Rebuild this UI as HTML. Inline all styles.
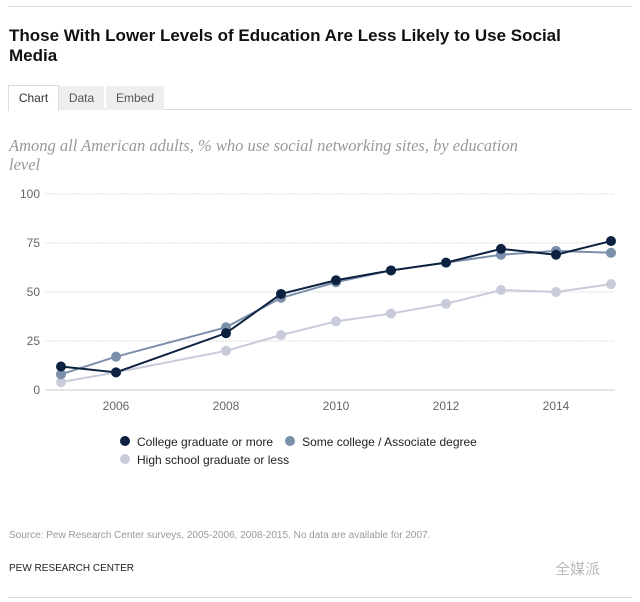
<!DOCTYPE html>
<html><head><meta charset="utf-8"><style>
body{margin:0;width:640px;height:602px;background:#fff;font-family:"Liberation Sans",sans-serif;position:relative;overflow:hidden}
.a{position:absolute}
</style></head><body>
<div class="a" style="left:8px;top:6px;width:624px;height:1px;background:#ddd"></div>
<div class="a" style="left:9px;top:26px;width:560px;font-weight:bold;font-size:17px;line-height:20px;color:#111">Those With Lower Levels of Education Are Less Likely to Use Social Media</div>
<div class="a" style="left:8px;top:109px;width:624px;height:1px;background:#ddd"></div>
<div class="a" style="left:8px;top:85px;width:49px;height:25px;border:1px solid #ddd;border-bottom:none;background:#fff;font-size:12px;color:#333;line-height:25px;text-align:center">Chart</div>
<div class="a" style="left:59px;top:86px;width:45px;height:24px;background:#eee;font-size:12px;color:#555;line-height:24px;text-align:center">Data</div>
<div class="a" style="left:106px;top:86px;width:58px;height:24px;background:#eee;font-size:12px;color:#555;line-height:24px;text-align:center">Embed</div>
<div class="a" style="left:9px;top:136px;width:540px;font-family:'Liberation Serif',serif;font-style:italic;font-size:16.5px;line-height:19px;color:#999">Among all American adults, % who use social networking sites, by education level</div>
<svg class="a" style="left:0;top:0" width="640" height="602">
<g id="grid"></g><g id="lines"></g>
</svg>
<div class="a" style="left:120px;top:433px;font-size:12px;color:#222;line-height:18px">
<div><span style="display:inline-block;width:10px;height:10px;border-radius:5px;background:#0d2240;margin-right:7px"></span>College graduate or more<span style="display:inline-block;width:10px;height:10px;border-radius:5px;background:#7b8faa;margin:0 7px 0 12px"></span>Some college / Associate degree</div>
<div><span style="display:inline-block;width:10px;height:10px;border-radius:5px;background:#c8cbda;margin-right:7px"></span>High school graduate or less</div>
</div>
<div class="a" style="left:9px;top:530px;font-size:10px;color:#999">Source: Pew Research Center surveys, 2005-2006, 2008-2015. No data are available for 2007.</div>
<div class="a" style="left:9px;top:563px;font-size:10px;color:#222">PEW RESEARCH CENTER</div>
<div class="a" style="left:555px;top:558px;font-size:15px;color:#bbb;font-family:'Liberation Sans','Noto Sans CJK SC',sans-serif">全媒派</div>
<div class="a" style="left:8px;top:597px;width:624px;height:1px;background:#ddd"></div>
<script>
const years=[2005,2006,2008,2009,2010,2011,2012,2013,2014,2015];
const college=[12,9,29,49,56,61,65,72,69,76];
const someCollege=[8,17,32,47,55,61,65,69,71,70];
const highSchool=[4,9,20,28,35,39,44,51,50,54];
const yTicks=[0,25,50,75,100];
const xTicks=[2006,2008,2010,2012,2014];
const NS="http://www.w3.org/2000/svg";
const x=v=>61+(v-2005)*55, y=v=>390-v*1.96;
const grid=document.getElementById('grid'), lines=document.getElementById('lines');
function mk(t,a,p){const e=document.createElementNS(NS,t);for(const k in a)e.setAttribute(k,a[k]);p.appendChild(e);return e;}
yTicks.forEach(t=>{
 const l=mk('line',{x1:45,x2:615,y1:y(t),y2:y(t),stroke:t?'#ddd':'#ccc','stroke-width':1,'stroke-dasharray':t?'2,1':''},grid);
 
 
 const tx=mk('text',{x:40,y:y(t)+4,'text-anchor':'end','font-size':12,fill:'#666','font-family':'Liberation Sans'},grid);tx.textContent=t;
 
 
});
xTicks.forEach(t=>{
 const tx=mk('text',{x:x(t),y:410,'text-anchor':'middle','font-size':12,fill:'#666','font-family':'Liberation Sans'},grid);tx.textContent=t;
 
 
});
[[highSchool,'#c8cbda','high-school'],[someCollege,'#7b8faa','some-college'],[college,'#0d2240','college']].forEach(([d,c,n])=>{
 const p=mk('polyline',{points:d.map((v,i)=>x(years[i])+','+y(v)).join(' '),fill:'none',stroke:c,'stroke-width':2},lines);
 
 
 d.forEach((v,i)=>{const ci=mk('circle',{cx:x(years[i]),cy:y(v),r:5,fill:c},lines);
 
 });
});
</script>
</body></html>
